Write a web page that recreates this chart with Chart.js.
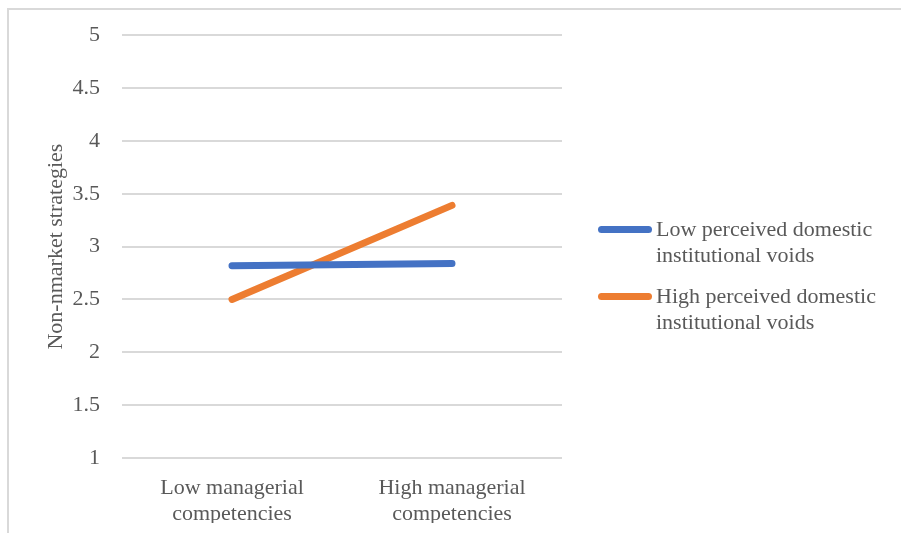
<!DOCTYPE html>
<html>
<head>
<meta charset="utf-8">
<script src="https://cdn.jsdelivr.net/npm/chart.js@4.4.1/dist/chart.umd.min.js"></script>
<style>
  html, body { margin: 0; padding: 0; background: #fff; }
  #wrap { position: relative; width: 901px; height: 533px; overflow: hidden; }
  #frame { position: absolute; left: 7px; top: 8px; width: 1000px; height: 1000px; border-top: 2px solid #d9d9d9; border-left: 2px solid #d9d9d9; }
  #legend { position: absolute; left: 598px; top: 216px; font-family: "Liberation Serif", serif; font-size: 22px; color: #595959; }
  .item { display: flex; align-items: flex-start; margin-bottom: 15px; line-height: 26px; }
  .swatch { width: 54px; height: 7px; border-radius: 3.5px; margin-top: 10px; margin-right: 4px; }
</style>
</head>
<body>
<div id="wrap">
  <div id="frame"></div>
  <canvas id="chart" width="901" height="533"></canvas>
  <div id="legend"></div>
</div>
<script>
// dados do gráfico
const categorias = [['Low managerial', 'competencies'], ['High managerial', 'competencies']];
const serieBaixa = [2.82, 2.84];
const serieAlta = [2.50, 3.39];
const nomesSeries = [['Low perceived domestic', 'institutional voids'], ['High perceived domestic', 'institutional voids']];
const coresSeries = ['#4472C4', '#ED7D31'];

const fonte = { family: '"Liberation Serif", serif', size: 22, lineHeight: 1.2 };
const cinza = '#595959';

const ctx = document.getElementById('chart').getContext('2d');
const chart = new Chart(ctx, {
    type: 'line',
    data: {
        labels: categorias,
        datasets: [{
            label: nomesSeries[0].join(' '),
            data: serieBaixa,
            borderColor: coresSeries[0],
            backgroundColor: coresSeries[0],
            borderWidth: 7,
            borderCapStyle: 'round',
            pointRadius: 0
        }, {
            label: nomesSeries[1].join(' '),
            data: serieAlta,
            borderColor: coresSeries[1],
            backgroundColor: coresSeries[1],
            borderWidth: 7,
            borderCapStyle: 'round',
            pointRadius: 0
        }]
    },
    options: {
        responsive: false,
        animation: false,
        layout: {
            padding: { left: 43, right: 339, top: 24, bottom: 10 }
        },
        plugins: {
            legend: { display: false },
            tooltip: { enabled: false }
        },
        scales: {
            x: {
                offset: true,
                grid: { display: false, drawTicks: false },
                border: { display: false },
                ticks: { color: cinza, font: fonte, padding: 17, maxRotation: 0 },
                afterFit: (scale) => { scale.height = 65; }
            },
            y: {
                min: 1,
                max: 5,
                grid: { color: '#d9d9d9', lineWidth: 2, drawTicks: false },
                border: { display: false },
                ticks: {
                    stepSize: 0.5, color: cinza, font: fonte, padding: 22,
                    callback: (v) => String(v)
                },
                title: { display: true, text: 'Non-nmarket strategies', color: cinza, font: fonte, padding: 0 },
                afterFit: (scale) => { scale.width = 79; }
            }
        }
    }
});

// legenda em HTML (texto em duas linhas)
const legend = document.getElementById('legend');
nomesSeries.forEach((nome, i) => {
    const item = document.createElement('div');
    item.className = 'item';
    const sw = document.createElement('div');
    sw.className = 'swatch';
    sw.style.background = coresSeries[i];
    const txt = document.createElement('div');
    txt.innerHTML = nome.join('<br>');
    item.appendChild(sw);
    item.appendChild(txt);
    legend.appendChild(item);
});
</script>
</body>
</html>
